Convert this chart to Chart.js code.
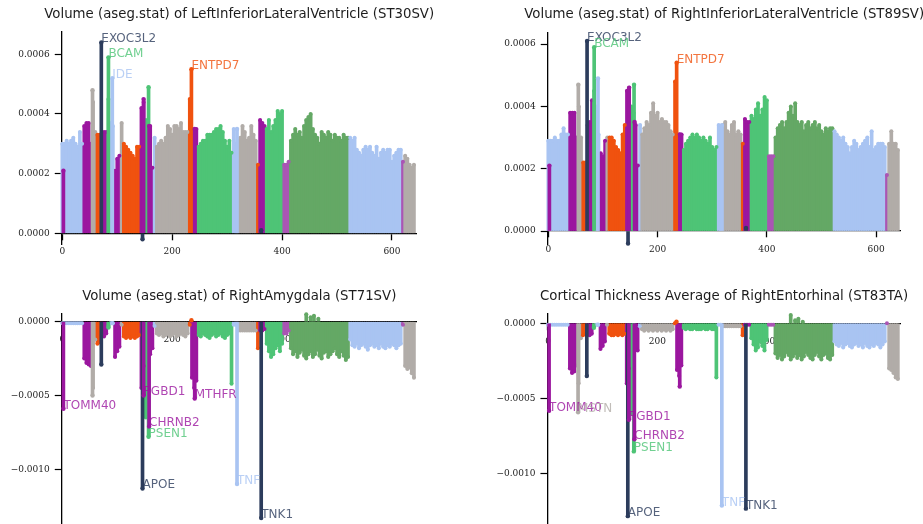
<!DOCTYPE html>
<html><head><meta charset="utf-8">
<script src="https://cdn.jsdelivr.net/npm/chart.js@4.4.1/dist/chart.umd.min.js"></script>
<style>
html,body{margin:0;padding:0;background:#fff;overflow:hidden;width:923px;height:524px;position:relative;}
canvas{position:absolute;}
</style></head><body>
<canvas id="c0" width="461" height="262" style="left:0px;top:0px;"></canvas>
<canvas id="c1" width="462" height="262" style="left:461px;top:0px;"></canvas>
<canvas id="c2" width="461" height="280" style="left:0px;top:262px;"></canvas>
<canvas id="c3" width="462" height="280" style="left:461px;top:262px;"></canvas>
<script>
// ---------- DATA ----------
const COLORS = {lb:'#a9c4f2', pu:'#9b179f', gr:'#b1aca8', or:'#f0520f', gn:'#4ec476', dg:'#64a865', lp:'#aa55b4', nv:'#2c3c5c'};

// gene-group colour segments along the gene index axis [from, to, colour]
const segments = [[0,36,'lb'],[40,52,'pu'],[56,60,'gr'],[64,68,'or'],[72,80,'pu'],[84,84,'gn'],[88,92,'lb'],
  [96,104,'pu'],[108,108,'gr'],[112,140,'or'],[144,148,'pu'],[152,156,'gn'],[160,164,'pu'],[168,168,'lb'],
  [172,228,'gr'],[232,232,'or'],[236,244,'pu'],[248,308,'gn'],[312,316,'lb'],[320,352,'gr'],[356,356,'or'],
  [360,368,'pu'],[372,400,'gn'],[404,412,'lp'],[416,520,'dg'],[524,616,'lb'],[620,620,'lp'],[624,640,'gr']];

// gene index positions (categories)
const xs = [];
for (let x = 0; x <= 640; x += 4) xs.push(x);

// series: Volume of LeftInferiorLateralVentricle (ST30SV)
const valsTL = [
 .00030,.00030,.00031,.00030,.00031,.00032,.00030,.00029,.00034,.00030,
 .00036,.00037,.00037,.00030,.00044,.00034,.00033,.00033,.00024,.00034,
 .00034,.00045,.00037,.00036,.00021,.00025,.00026,.00037,.00030,.00029,
 .00028,.00027,.00026,.00025,.00029,.00029,.00042,.00044,.00038,.00037,
 .00036,.00022,.00032,.00029,.00030,.00031,.00030,.00032,.00036,.00035,
 .00033,.00036,.00036,.00035,.00037,.00034,.00034,.00034,.00045,.00035,
 .00033,.00035,.00029,.00030,.00031,.00031,.00033,.00033,.00033,.00034,
 .00035,.00035,.00036,.00034,.00031,.00029,.00031,.00027,.00035,.00030,
 .00031,.00032,.00036,.00034,.00031,.00032,.00036,.00033,.00031,.00023,
 .00038,.00037,.00036,.00035,.00038,.00034,.00036,.00038,.00041,.00040,
 .00041,.00023,.00023,.00024,.00031,.00033,.00035,.00033,.00034,.00032,
 .00036,.00038,.00039,.00040,.00035,.00033,.00032,.00030,.00034,.00033,
 .00032,.00034,.00033,.00031,.00033,.00032,.00032,.00031,.00033,.00032,
 .00032,.00032,.00031,.00032,.00028,.00027,.00026,.00028,.00029,.00028,
 .00029,.00027,.00026,.00029,.00025,.00027,.00028,.00027,.00028,.00028,
 .00024,.00026,.00027,.00028,.00028,.00024,.00026,.00025,.00023,.00022,
 .00023];

// series: Volume of RightInferiorLateralVentricle (ST89SV)
const valsTR = [
 .00029,.00029,.00029,.00030,.00029,.00029,.00031,.00033,.00031,.00031,
 .00038,.00038,.00038,.00030,.00040,.00030,.00022,.00022,.00034,.00035,
 .00042,.00045,.00040,.00031,.00025,.00024,.00029,.00030,.00030,.00030,
 .00029,.00027,.00026,.00025,.00031,.00034,.00045,.00046,.00040,.00038,
 .00034,.00021,.00034,.00031,.00033,.00035,.00034,.00038,.00041,.00037,
 .00038,.00035,.00036,.00035,.00035,.00034,.00032,.00031,.00048,.00031,
 .00031,.00031,.00026,.00028,.00029,.00030,.00031,.00030,.00031,.00030,
 .00029,.00030,.00029,.00028,.00030,.00027,.00026,.00027,.00034,.00033,
 .00034,.00035,.00032,.00031,.00034,.00035,.00031,.00032,.00031,.00028,
 .00036,.00035,.00035,.00037,.00036,.00039,.00041,.00037,.00039,.00043,
 .00042,.00024,.00024,.00024,.00030,.00033,.00034,.00035,.00033,.00035,
 .00038,.00040,.00037,.00041,.00035,.00034,.00035,.00032,.00034,.00035,
 .00033,.00034,.00035,.00033,.00034,.00032,.00031,.00033,.00032,.00033,
 .00033,.00032,.00031,.00030,.00029,.00030,.00028,.00027,.00025,.00027,
 .00029,.00028,.00026,.00027,.00028,.00029,.00030,.00027,.00032,.00026,
 .00027,.00028,.00028,.00028,.00027,.00018,.00028,.00032,.00028,.00028,
 .00026];

// series: Volume of RightAmygdala (ST71SV)
const valsBL = [
 -.00001,-.00001,-.00001,-.00001,-.00001,-.00001,-.00001,-.00001,-.00001,-.00001,
 -.00025,-.00028,-.00029,-.00030,-.00045,-.00012,-.00015,-.00014,-.00009,-.00010,
 -.00008,-.00003,-.00001,-.00001,-.00024,-.00020,-.00017,-.00002,-.00010,-.00011,
 -.00010,-.00011,-.00010,-.00011,-.00010,-.00009,-.00045,-.00030,-.00065,-.00050,
 -.00022,-.00018,-.00003,-.00008,-.00009,-.00008,-.00010,-.00009,-.00008,-.00010,
 -.00009,-.00008,-.00010,-.00009,-.00008,-.00009,-.00010,-.00008,-.00002,-.00038,
 -.00045,-.00040,-.00009,-.00010,-.00008,-.00009,-.00010,-.00011,-.00009,-.00008,
 -.00010,-.00009,-.00008,-.00010,-.00011,-.00009,-.00008,-.00042,-.00002,-.00002,
 -.00006,-.00006,-.00006,-.00006,-.00006,-.00006,-.00006,-.00006,-.00006,-.00018,
 -.00006,-.00006,-.00005,-.00015,-.00020,-.00024,-.00022,-.00018,-.00016,-.00020,
 -.00015,-.00008,-.00008,-.00006,-.00018,-.00022,-.00020,-.00024,-.00021,-.00019,
 -.00023,-.00025,-.00022,-.00020,-.00024,-.00022,-.00019,-.00023,-.00025,-.00021,
 -.00020,-.00024,-.00022,-.00020,-.00018,-.00022,-.00024,-.00020,-.00023,-.00026,
 -.00024,-.00012,-.00016,-.00017,-.00015,-.00018,-.00016,-.00015,-.00017,-.00019,
 -.00016,-.00015,-.00017,-.00016,-.00018,-.00015,-.00017,-.00018,-.00016,-.00017,
 -.00015,-.00016,-.00018,-.00016,-.00015,-.00002,-.00030,-.00032,-.00031,-.00035,
 -.00038];

// series: Cortical Thickness Average of RightEntorhinal (ST83TA)
const valsBR = [
 -.00001,-.00001,-.00001,-.00001,-.00001,-.00001,-.00001,-.00001,-.00001,-.00001,
 -.00030,-.00033,-.00032,-.00028,-.00040,-.00010,-.00008,-.00007,-.00006,-.00008,
 -.00007,-.00002,-.00001,-.00001,-.00017,-.00015,-.00012,-.00001,-.00007,-.00008,
 -.00008,-.00007,-.00008,-.00007,-.00008,-.00007,-.00040,-.00030,-.00060,-.00045,
 -.00017,-.00018,-.00002,-.00004,-.00005,-.00004,-.00005,-.00004,-.00005,-.00004,
 -.00005,-.00004,-.00005,-.00004,-.00005,-.00004,-.00005,-.00004,.00000,-.00031,
 -.00035,-.00028,-.00003,-.00004,-.00003,-.00004,-.00004,-.00003,-.00004,-.00004,
 -.00004,-.00003,-.00004,-.00004,-.00003,-.00004,-.00004,-.00036,-.00001,-.00001,
 -.00002,-.00002,-.00002,-.00002,-.00002,-.00002,-.00002,-.00002,-.00002,-.00008,
 -.00001,-.00001,-.00001,-.00010,-.00014,-.00018,-.00016,-.00012,-.00015,-.00018,
 -.00011,-.00001,-.00001,-.00001,-.00020,-.00023,-.00021,-.00024,-.00022,-.00019,
 -.00021,-.00024,-.00022,-.00020,-.00023,-.00021,-.00024,-.00022,-.00019,-.00021,
 -.00023,-.00024,-.00021,-.00019,-.00022,-.00024,-.00021,-.00020,-.00023,-.00024,
 -.00021,-.00012,-.00014,-.00015,-.00013,-.00016,-.00014,-.00013,-.00015,-.00016,
 -.00014,-.00013,-.00015,-.00014,-.00016,-.00013,-.00015,-.00016,-.00014,-.00015,
 -.00013,-.00014,-.00016,-.00014,-.00012,.00000,-.00030,-.00031,-.00033,-.00036,
 -.00037];

// named genes (highlighted stems)
const geneNames = ['TOMM40','MSTN','EXOC3L2','BCAM','IDE','APOE','PGBD1','PSEN1','CHRNB2','ENTPD7','MTHFR','TNF','TNK1'];
const geneX     = [2, 55, 71, 84, 91, 146, 148, 157, 158, 235, 241, 318, 362];
const geneColor = ['pu','gr','nv','gn','lb','nv','pu','gn','pu','or','pu','lb','nv'];
const geneTL = [.00021,.00048,.00064,.00059,.00052,-.00002,.00045,.00049,.00036,.00055,.00035,.00035,.00001];
const geneTR = [.00021,.00047,.00061,.00059,.00049,-.00004,.00046,.00047,.00035,.00054,.00031,.00034,.00001];
const geneBL = [-.00059,-.00050,-.00029,-.00004,-.00001,-.00113,-.00050,-.00078,-.00071,.00001,-.00052,-.00110,-.00133];
const geneBR = [-.00058,-.00059,-.00035,-.00003,-.00001,-.00128,-.00064,-.00085,-.00077,.00001,-.00042,-.00121,-.00123];
const shownTL = ['EXOC3L2','BCAM','IDE','ENTPD7'];
const shownTR = ['EXOC3L2','BCAM','ENTPD7'];
const shownBL = ['TOMM40','PGBD1','CHRNB2','PSEN1','APOE','MTHFR','TNF','TNK1'];
const shownBR = ['TOMM40','MSTN','PGBD1','CHRNB2','PSEN1','APOE','TNF','TNK1'];

// small positive stems inside the dark-green block (bottom panels)
const upX  = [444, 452, 458, 466];
const upBL = [.00005, .00003, .00004, .00002];
const upBR = [.000055, .00002, .00003, .00001];

// ticks
const xTicks = [0, 200, 400, 600];
const xTickLabels = ['0', '200', '400', '600'];
const yTicksTop = [0, .0002, .0004, .0006];
const yTickLabelsTop = ['0.0000', '0.0002', '0.0004', '0.0006'];
const yTicksBot = [0, -.0005, -.0010];
const yTickLabelsBot = ['0.0000', '\u22120.0005', '\u22120.0010'];

const titles = [
  'Volume (aseg.stat) of LeftInferiorLateralVentricle (ST30SV)',
  'Volume (aseg.stat) of RightInferiorLateralVentricle (ST89SV)',
  'Volume (aseg.stat) of RightAmygdala (ST71SV)',
  'Cortical Thickness Average of RightEntorhinal (ST83TA)'
];

// ---------- LAYOUT ----------
const panels = [
  {id:'c0', w:461, h:262, area:{l:61.75, r:416.7, t:31.7, b:244}, y:[-0.000036, 0.000676], titleY:15,
   vals:valsTL, genes:geneTL, shown:shownTL, ups:null, yT:yTicksTop, yL:yTickLabelsTop, title:titles[0]},
  {id:'c1', w:462, h:262, area:{l:86.75, r:439.6, t:32.3, b:244.1}, y:[-0.000042, 0.000638], titleY:15,
   vals:valsTR, genes:geneTR, shown:shownTR, ups:null, yT:yTicksTop, yL:yTickLabelsTop, title:titles[1]},
  {id:'c2', w:461, h:280, area:{l:61.75, r:416.7, t:51.3, b:262}, y:[-0.001371, 0.0000569], titleY:34.7,
   vals:valsBL, genes:geneBL, shown:shownBL, ups:upBL, yT:yTicksBot, yL:yTickLabelsBot, title:titles[2]},
  {id:'c3', w:462, h:280, area:{l:86.45, r:439.6, t:51.3, b:262}, y:[-0.001332, 0.0000664], titleY:34.7,
   vals:valsBR, genes:geneBR, shown:shownBR, ups:upBR, yT:yTicksBot, yL:yTickLabelsBot, title:titles[3]}
];

function hexA(hex, a) {
  const n = parseInt(hex.slice(1), 16);
  return 'rgba(' + (n >> 16) + ',' + ((n >> 8) & 255) + ',' + (n & 255) + ',' + a + ')';
}

const groupOf = xs.map(x => segments.find(s => x >= s[0] && x <= s[1])[2]);
const gridColors = groupOf.map(g => COLORS[g]);
const geneColors = geneColor.map(g => COLORS[g]);
const TICK_FONT = {family: 'DejaVu Serif', size: 9};

panels.forEach((p, k) => {
  const gridPts = xs.map((x, i) => ({x: x, y: p.vals[i]}));
  const genePts = geneX.map((x, i) => ({x: x, y: p.genes[i]}));
  const datasets = [
    {type:'bar', data:gridPts, backgroundColor:gridColors, barThickness:3, grouped:false, borderWidth:0, order:6, clip:false},
    {type:'scatter', data:gridPts, backgroundColor:gridColors, pointBackgroundColor:gridColors, pointRadius:2, pointBorderWidth:0, order:5, clip:false}
  ];
  if (p.ups) {
    const upPts = upX.map((x, i) => ({x: x, y: p.ups[i]}));
    datasets.push({type:'bar', data:upPts, backgroundColor:COLORS.dg, barThickness:3, grouped:false, borderWidth:0, order:4, clip:false});
    datasets.push({type:'scatter', data:upPts, backgroundColor:COLORS.dg, pointRadius:2, pointBorderWidth:0, order:3, clip:false});
  }
  datasets.push({type:'bar', data:genePts, backgroundColor:geneColors, barThickness:3, grouped:false, borderWidth:0, order:2, clip:false});
  datasets.push({type:'scatter', data:genePts, backgroundColor:geneColors, pointBackgroundColor:geneColors, pointRadius:2.2, pointBorderWidth:0, order:1, clip:false});

  const textPlugin = {
    id: 'txt' + k,
    afterDraw(chart) {
      const ctx = chart.ctx, a = chart.chartArea;
      const xS = chart.scales.x, yS = chart.scales.y;
      ctx.save();
      ctx.font = '13.3px "DejaVu Sans"';
      ctx.fillStyle = '#1c1c1c';
      ctx.textAlign = 'center';
      ctx.textBaseline = 'middle';
      ctx.fillText(p.title, (a.left + a.right) / 2, p.titleY);
      ctx.font = '12px "DejaVu Sans"';
      ctx.textAlign = 'left';
      ctx.textBaseline = 'alphabetic';
      p.shown.forEach(name => {
        const i = geneNames.indexOf(name);
        ctx.fillStyle = hexA(COLORS[geneColor[i]], 0.8);
        ctx.fillText(name, xS.getPixelForValue(geneX[i]), yS.getPixelForValue(p.genes[i]));
      });
      ctx.restore();
    }
  };

  const yw = p.area.l;
  new Chart(document.getElementById(p.id), {
    type: 'bar',
    data: {datasets: datasets},
    plugins: [textPlugin],
    options: {
      responsive: false,
      animation: false,
      events: [],
      layout: {padding: {left: 0, right: p.w - p.area.r, top: p.area.t, bottom: p.h - p.area.b}},
      plugins: {legend: {display: false}, tooltip: {enabled: false}, title: {display: false}},
      scales: {
        x: {
          type: 'linear', min: -1, max: 645, offset: false, position: {y: 0}, z: 1,
          afterBuildTicks: s => { s.ticks = xTicks.map(v => ({value: v})); },
          ticks: {callback: (v, i) => xTickLabels[i], font: TICK_FONT, color: '#222', padding: 7, maxRotation: 0, autoSkip: false},
          grid: {display: true, drawOnChartArea: false, drawTicks: true, tickLength: 6, tickColor: '#000', tickWidth: 1.3, offset: false},
          border: {display: true, color: '#000', width: 1.3}
        },
        y: {
          type: 'linear', min: p.y[0], max: p.y[1], position: 'left', z: 1,
          afterFit: s => { s.width = yw; },
          afterBuildTicks: s => { s.ticks = p.yT.map(v => ({value: v})); },
          ticks: {callback: (v, i) => p.yL[i], font: TICK_FONT, color: '#222', padding: 5, autoSkip: false},
          grid: {display: true, drawOnChartArea: false, drawTicks: true, tickLength: 7, tickColor: '#000', tickWidth: 1.2},
          border: {display: true, color: '#000', width: 1.3}
        }
      }
    }
  });
});
</script>
</body></html>
